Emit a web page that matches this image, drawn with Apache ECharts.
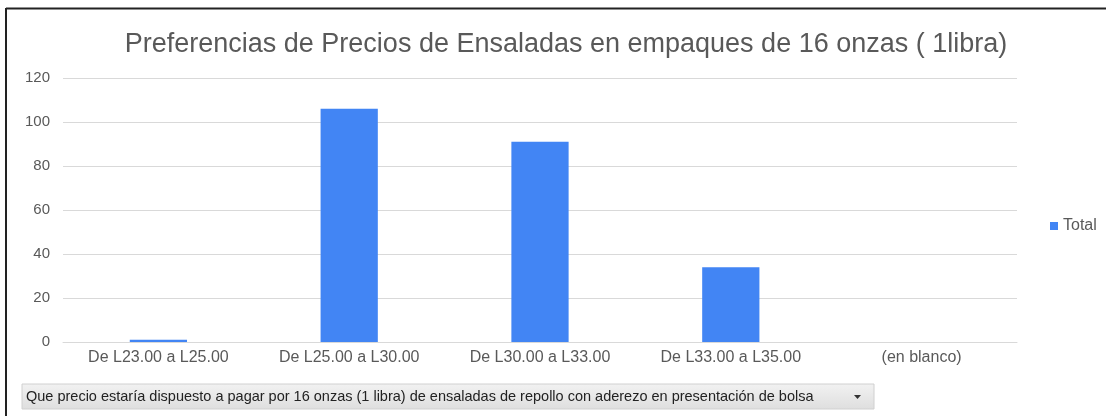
<!DOCTYPE html>
<html>
<head>
<meta charset="utf-8">
<script src="https://cdn.jsdelivr.net/npm/echarts@6/dist/echarts.min.js"></script>
<style>
html,body{margin:0;padding:0;background:#fff;}
#c{width:1106px;height:416px;}
</style>
</head>
<body>
<div id="c"></div>
<script>
const titleText = 'Preferencias de Precios de Ensaladas en empaques de 16 onzas ( 1libra)';
const categories = ['De L23.00 a L25.00', 'De L25.00 a L30.00', 'De L30.00 a L33.00', 'De L33.00 a L35.00', '(en blanco)'];
const seriesName = 'Total';
const totals = [1, 106, 91, 34, 0];
const filterText = 'Que precio estaría dispuesto a pagar por 16 onzas (1 libra) de ensaladas de repollo con aderezo en presentación de bolsa';

const chart = echarts.init(document.getElementById('c'));
chart.setOption({
  animation: false,
  backgroundColor: '#fff',
  title: {
    text: titleText,
    left: 561, top: 26, textAlign: 'center',
    textStyle: {fontFamily: 'Liberation Sans, Arial', fontSize: 27, fontWeight: 'normal', color: '#595959'}
  },
  legend: {
    data: [seriesName],
    left: 1045, top: 213,
    orient: 'vertical',
    itemWidth: 8, itemHeight: 8, itemGap: 4,
    icon: 'rect',
    textStyle: {fontFamily: 'Liberation Sans, Arial', fontSize: 16, color: '#595959'}
  },
  grid: {left: 63, right: 89, top: 78, bottom: 74, containLabel: false},
  xAxis: {
    type: 'category',
    data: categories,
    axisLine: {lineStyle: {color: '#d9d9d9', width: 1}},
    axisTick: {show: false},
    axisLabel: {fontFamily: 'Liberation Sans, Arial', fontSize: 16, color: '#595959', margin: 8}
  },
  yAxis: {
    type: 'value',
    min: 0, max: 120, interval: 20,
    axisLine: {show: false},
    axisTick: {show: false},
    splitLine: {lineStyle: {color: '#d9d9d9', width: 1}},
    axisLabel: {fontFamily: 'Liberation Sans, Arial', fontSize: 15, color: '#595959', margin: 13}
  },
  series: [{
    name: seriesName,
    type: 'bar',
    data: totals,
    barWidth: '30%',
    itemStyle: {color: '#4285f4'}
  }],
  graphic: [
    {type: 'line', shape: {x1: 6, y1: 8.5, x2: 1106, y2: 8.5}, style: {stroke: '#222', lineWidth: 2}},
    {type: 'line', shape: {x1: 6, y1: 8, x2: 6, y2: 416}, style: {stroke: '#222', lineWidth: 2}},
    {type: 'rect', shape: {x: 22, y: 384, width: 852, height: 25},
      style: {fill: new echarts.graphic.LinearGradient(0,0,0,1,[{offset:0,color:'#f2f2f2'},{offset:1,color:'#dedede'}]), stroke: '#d0d0d0', lineWidth: 1}},
    {type: 'text', x: 26, y: 396.5, style: {text: filterText, fontFamily: 'Liberation Sans Narrow, Arial Narrow, Liberation Sans', fontSize: 14.5, fill: '#222', textVerticalAlign: 'middle'}},
    {type: 'polygon', shape: {points: [[854, 395], [861, 395], [857.5, 399]]}, style: {fill: '#333'}}
  ]
});
</script>
</body>
</html>
